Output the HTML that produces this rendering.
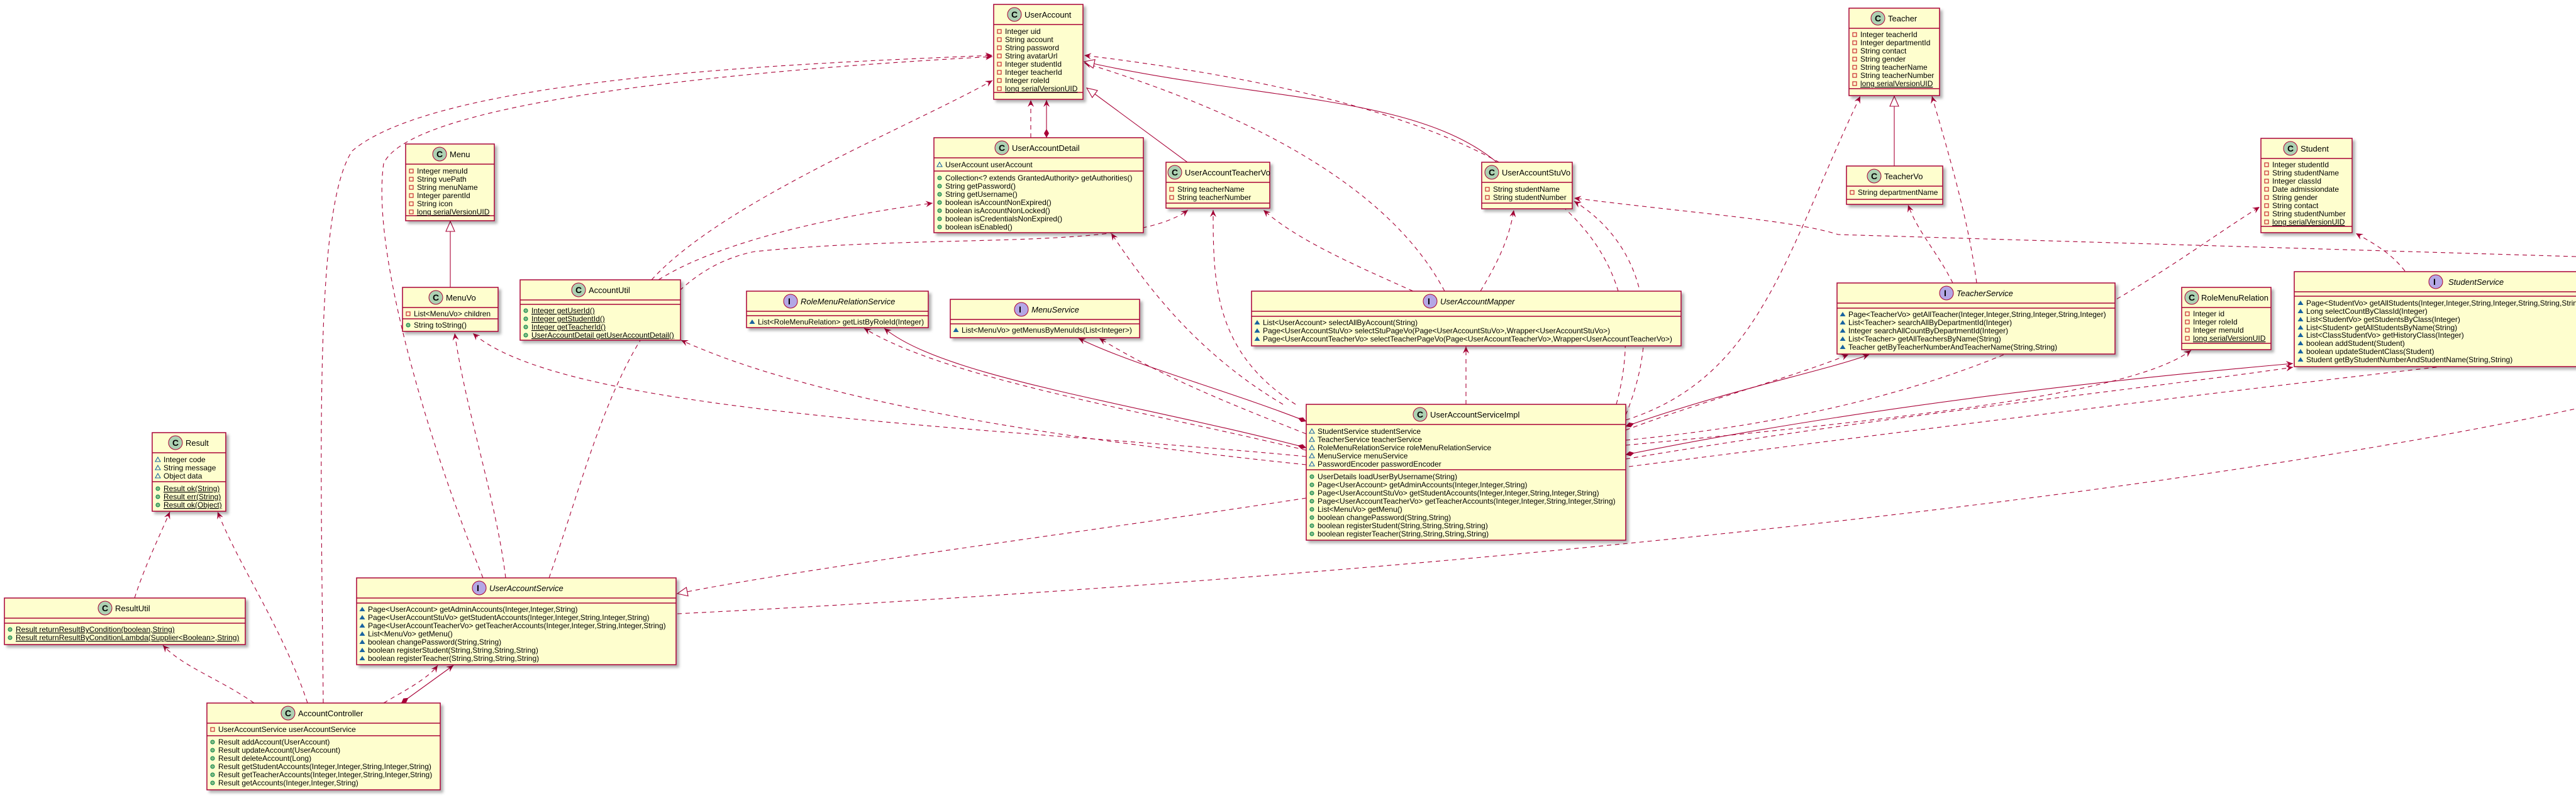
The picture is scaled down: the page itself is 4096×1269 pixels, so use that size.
<!DOCTYPE html>
<html><head><meta charset="utf-8"><style>
html,body{margin:0;padding:0;background:#fff;}
svg{display:block;}
text{font-family:"Liberation Sans",sans-serif;font-size:12px;fill:#000;}
.t{font-size:13px;}
.it{font-style:italic;}
.u{text-decoration:underline;}
.box{fill:#FEFECE;stroke:#A80036;stroke-width:1.5;filter:url(#sh);}
.sep{stroke:#A80036;stroke-width:1.5;}
.d{fill:none;stroke:#A80036;stroke-width:1.1;stroke-dasharray:7,6;marker-end:url(#ar);}
.dn{fill:none;stroke:#A80036;stroke-width:1.1;stroke-dasharray:7,6;}
.s{fill:none;stroke:#A80036;stroke-width:1.1;marker-end:url(#ar);marker-start:url(#dm);}
.g{fill:none;stroke:#A80036;stroke-width:1.1;marker-end:url(#tri);}
.r{fill:none;stroke:#A80036;stroke-width:1.1;stroke-dasharray:7,6;marker-end:url(#tri);}
.cc{fill:#ADD1B2;stroke:#A80036;stroke-width:1;}
.ci{fill:#B4A7E5;stroke:#A80036;stroke-width:1;}
.cl{font-weight:bold;font-size:14px;}
</style></head><body>
<svg width="4096" height="1269" viewBox="0 0 4096 1269" xmlns="http://www.w3.org/2000/svg">
<defs>
<filter id="sh" x="-5%" y="-5%" width="115%" height="120%"><feDropShadow dx="4" dy="4" stdDeviation="2" flood-color="#000" flood-opacity="0.3"/></filter>
<marker id="ar" markerUnits="userSpaceOnUse" markerWidth="14" markerHeight="12" refX="11" refY="5" orient="auto"><path d="M0,0 L11,5 L0,10 L4,5 Z" fill="#A80036"/></marker>
<marker id="dm" markerUnits="userSpaceOnUse" markerWidth="18" markerHeight="12" refX="1" refY="5" orient="auto"><path d="M1,5 L8,1 L15,5 L8,9 Z" fill="#A80036"/></marker>
<marker id="tri" markerUnits="userSpaceOnUse" markerWidth="20" markerHeight="20" refX="17" refY="8" orient="auto"><path d="M1,1 L17,8 L1,15 Z" fill="#fff" stroke="#A80036" stroke-width="1.1"/></marker>
<g id="pv"><rect x="-3" y="-3" width="6" height="6" fill="none" stroke="#C82930" stroke-width="1.2"/></g>
<g id="pk"><path d="M0,-4 L4,3 L-4,3 Z" fill="none" stroke="#1963A0" stroke-width="1.1"/></g>
<g id="pkf"><path d="M0,-4 L4.5,3 L-4.5,3 Z" fill="#1963A0"/></g>
<g id="pb"><circle r="3" fill="#84BE84" stroke="#038048" stroke-width="1"/></g>
</defs>

<!-- connectors -->
<path class="d" d="M514,1118 C510,700 500,330 560,240 C700,120 1300,100 1578,88"/>
<path class="d" d="M768,919 C680,700 590,400 610,260 C660,150 1300,105 1578,90"/>
<path class="d" d="M1036,445 C1150,320 1450,200 1578,128"/>
<path class="d" d="M1047,445 C1150,380 1350,340 1483,323"/>
<path class="d" d="M804,919 C790,800 740,650 723,530"/>
<path class="d" d="M873,919 C950,700 1000,440 1200,400 C1500,370 1800,400 1889,334"/>
<path class="d" d="M2077,726 C1600,680 900,660 752,530"/>
<path class="d" d="M2077,739 C1700,700 1300,640 1083,541"/>
<path class="d" d="M2077,716 C1800,650 1500,600 1374,522"/>
<path class="d" d="M2077,690 C1950,640 1850,600 1748,538"/>
<path class="d" d="M2040,643 C1900,560 1820,450 1767,371"/>
<path class="d" d="M2060,643 C1930,560 1929,450 1929,334"/>
<path class="d" d="M2247,463 C2150,420 2060,380 2009,334"/>
<path class="d" d="M2297,463 C2200,280 1950,170 1724,100"/>
<path class="d" d="M2354,463 C2380,420 2400,380 2407,334"/>
<path class="d" d="M2331,643 L2331,551"/>
<path class="d" d="M2570,643 C2650,350 2400,170 1724,88"/>
<path class="d" d="M2585,660 C2650,500 2600,380 2503,320"/>
<path class="d" d="M4096,408 L2923,373 C2850,350 2700,340 2503,315"/>
<path class="d" d="M2585,668 C2800,600 2840,400 2958,153"/>
<path class="d" d="M3143,450 C3130,350 3100,250 3072,153"/>
<path class="d" d="M3105,450 C3080,400 3050,370 3034,326"/>
<path class="d" d="M2585,684 C2700,640 2850,600 2939,564"/>
<path class="d" d="M2585,700 C3200,640 3400,450 3593,329"/>
<path class="d" d="M2585,708 C3100,660 3400,620 3484,557"/>
<path class="d" d="M2585,730 C3000,660 3400,620 3646,584"/>
<path class="d" d="M3824,431 C3800,400 3770,385 3746,371"/>
<path class="dn" d="M2590,742 C3000,690 3700,600 4096,560"/>
<path class="dn" d="M1077,976 C2000,930 3300,820 4096,650"/>
<path class="r" d="M2077,792 C1700,850 1300,900 1077,944"/>
<path class="d" d="M214,951 C230,900 255,850 270,814"/>
<path class="d" d="M489,1118 C450,1000 380,900 346,814"/>
<path class="d" d="M404,1118 C350,1080 290,1060 259,1026"/>
<path class="d" d="M610,1118 C640,1100 680,1080 696,1058"/>
<path class="d" d="M1639,219 L1639,159"/>
<path class="s" d="M1664,219 L1664,159"/>
<path class="s" d="M638,1118 L721,1058"/>
<path class="s" d="M2077,670 C1950,620 1800,580 1715,538"/>
<path class="s" d="M2077,712 C1800,640 1500,600 1406,522"/>
<path class="s" d="M2585,678 C2750,620 2900,590 2972,564"/>
<path class="s" d="M2585,723 C3000,640 3400,600 3646,578"/>
<path class="g" d="M3012,264 L3012,153"/>
<path class="g" d="M716,457 L716,352"/>
<path class="g" d="M1888,258 L1728,140"/>
<path class="g" d="M2380,258 C2250,150 2000,160 1724,98"/>

<!-- UserAccount -->
<rect class="box" x="1580" y="7" width="142" height="151"/>
<line class="sep" x1="1580" y1="39" x2="1722" y2="39"/><line class="sep" x1="1580" y1="147" x2="1722" y2="147"/>
<circle class="cc" cx="1613" cy="23" r="11"/><text class="cl" x="1608" y="28">C</text>
<text class="t" x="1629" y="28">UserAccount</text>
<use href="#pv" x="1589" y="50"/><text x="1598" y="54">Integer uid</text>
<use href="#pv" x="1589" y="63"/><text x="1598" y="67">String account</text>
<use href="#pv" x="1589" y="76"/><text x="1598" y="80">String password</text>
<use href="#pv" x="1589" y="89"/><text x="1598" y="93">String avatarUrl</text>
<use href="#pv" x="1589" y="102"/><text x="1598" y="106">Integer studentId</text>
<use href="#pv" x="1589" y="115"/><text x="1598" y="119">Integer teacherId</text>
<use href="#pv" x="1589" y="128"/><text x="1598" y="132">Integer roleId</text>
<use href="#pv" x="1589" y="141"/><text class="u" x="1598" y="145">long serialVersionUID</text>

<!-- UserAccountDetail -->
<rect class="box" x="1485" y="219" width="333" height="151"/>
<line class="sep" x1="1485" y1="251" x2="1818" y2="251"/><line class="sep" x1="1485" y1="272" x2="1818" y2="272"/>
<circle class="cc" cx="1593" cy="235" r="11"/><text class="cl" x="1588" y="240">C</text>
<text class="t" x="1609" y="240">UserAccountDetail</text>
<use href="#pk" x="1494" y="262"/><text x="1503" y="266">UserAccount userAccount</text>
<use href="#pb" x="1494" y="283"/><text x="1503" y="287">Collection&lt;? extends GrantedAuthority&gt; getAuthorities()</text>
<use href="#pb" x="1494" y="296"/><text x="1503" y="300">String getPassword()</text>
<use href="#pb" x="1494" y="309"/><text x="1503" y="313">String getUsername()</text>
<use href="#pb" x="1494" y="322"/><text x="1503" y="326">boolean isAccountNonExpired()</text>
<use href="#pb" x="1494" y="335"/><text x="1503" y="339">boolean isAccountNonLocked()</text>
<use href="#pb" x="1494" y="348"/><text x="1503" y="352">boolean isCredentialsNonExpired()</text>
<use href="#pb" x="1494" y="361"/><text x="1503" y="365">boolean isEnabled()</text>

<!-- UserAccountTeacherVo -->
<rect class="box" x="1854" y="258" width="165" height="73"/>
<line class="sep" x1="1854" y1="290" x2="2019" y2="290"/><line class="sep" x1="1854" y1="323" x2="2019" y2="323"/>
<circle class="cc" cx="1868" cy="274" r="11"/><text class="cl" x="1863" y="279">C</text>
<text class="t" x="1884" y="279">UserAccountTeacherVo</text>
<use href="#pv" x="1863" y="301"/><text x="1872" y="305">String teacherName</text>
<use href="#pv" x="1863" y="314"/><text x="1872" y="318">String teacherNumber</text>

<!-- UserAccountStuVo -->
<rect class="box" x="2356" y="258" width="144" height="74"/>
<line class="sep" x1="2356" y1="290" x2="2500" y2="290"/><line class="sep" x1="2356" y1="323" x2="2500" y2="323"/>
<circle class="cc" cx="2372" cy="274" r="11"/><text class="cl" x="2367" y="279">C</text>
<text class="t" x="2388" y="279">UserAccountStuVo</text>
<use href="#pv" x="2365" y="301"/><text x="2374" y="305">String studentName</text>
<use href="#pv" x="2365" y="314"/><text x="2374" y="318">String studentNumber</text>

<!-- Menu -->
<rect class="box" x="645" y="229" width="141" height="122"/>
<line class="sep" x1="645" y1="261" x2="786" y2="261"/><line class="sep" x1="645" y1="343" x2="786" y2="343"/>
<circle class="cc" cx="699" cy="245" r="11"/><text class="cl" x="694" y="250">C</text>
<text class="t" x="715" y="250">Menu</text>
<use href="#pv" x="654" y="272"/><text x="663" y="276">Integer menuId</text>
<use href="#pv" x="654" y="285"/><text x="663" y="289">String vuePath</text>
<use href="#pv" x="654" y="298"/><text x="663" y="302">String menuName</text>
<use href="#pv" x="654" y="311"/><text x="663" y="315">Integer parentId</text>
<use href="#pv" x="654" y="324"/><text x="663" y="328">String icon</text>
<use href="#pv" x="654" y="337"/><text class="u" x="663" y="341">long serialVersionUID</text>

<!-- MenuVo -->
<rect class="box" x="640" y="457" width="152" height="70"/>
<line class="sep" x1="640" y1="489" x2="792" y2="489"/><line class="sep" x1="640" y1="507" x2="792" y2="507"/>
<circle class="cc" cx="693" cy="473" r="11"/><text class="cl" x="688" y="478">C</text>
<text class="t" x="709" y="478">MenuVo</text>
<use href="#pv" x="649" y="499"/><text x="658" y="503">List&lt;MenuVo&gt; children</text>
<use href="#pb" x="649" y="517"/><text x="658" y="521">String toString()</text>

<!-- AccountUtil -->
<rect class="box" x="827" y="445" width="255" height="96"/>
<line class="sep" x1="827" y1="477" x2="1082" y2="477"/><line class="sep" x1="827" y1="484" x2="1082" y2="484"/>
<circle class="cc" cx="920" cy="461" r="11"/><text class="cl" x="915" y="466">C</text>
<text class="t" x="936" y="466">AccountUtil</text>
<use href="#pb" x="836" y="494"/><text class="u" x="845" y="498">Integer getUserId()</text>
<use href="#pb" x="836" y="507"/><text class="u" x="845" y="511">Integer getStudentId()</text>
<use href="#pb" x="836" y="520"/><text class="u" x="845" y="524">Integer getTeacherId()</text>
<use href="#pb" x="836" y="533"/><text class="u" x="845" y="537">UserAccountDetail getUserAccountDetail()</text>

<!-- RoleMenuRelationService -->
<rect class="box" x="1187" y="463" width="289" height="58"/>
<line class="sep" x1="1187" y1="495" x2="1476" y2="495"/><line class="sep" x1="1187" y1="502" x2="1476" y2="502"/>
<circle class="ci" cx="1257" cy="479" r="11"/><text class="cl" x="1253" y="484">I</text>
<text class="t it" x="1273" y="484">RoleMenuRelationService</text>
<use href="#pkf" x="1196" y="512"/><text x="1205" y="516">List&lt;RoleMenuRelation&gt; getListByRoleId(Integer)</text>

<!-- MenuService -->
<rect class="box" x="1511" y="476" width="301" height="61"/>
<line class="sep" x1="1511" y1="508" x2="1812" y2="508"/><line class="sep" x1="1511" y1="515" x2="1812" y2="515"/>
<circle class="ci" cx="1624" cy="492" r="11"/><text class="cl" x="1620" y="497">I</text>
<text class="t it" x="1640" y="497">MenuService</text>
<use href="#pkf" x="1520" y="525"/><text x="1529" y="529">List&lt;MenuVo&gt; getMenusByMenuIds(List&lt;Integer&gt;)</text>

<!-- UserAccountMapper -->
<rect class="box" x="1990" y="463" width="683" height="87"/>
<line class="sep" x1="1990" y1="495" x2="2673" y2="495"/><line class="sep" x1="1990" y1="503" x2="2673" y2="503"/>
<circle class="ci" cx="2274" cy="479" r="11"/><text class="cl" x="2270" y="484">I</text>
<text class="t it" x="2290" y="484">UserAccountMapper</text>
<use href="#pkf" x="1999" y="513"/><text x="2008" y="517">List&lt;UserAccount&gt; selectAllByAccount(String)</text>
<use href="#pkf" x="1999" y="526"/><text x="2008" y="530">Page&lt;UserAccountStuVo&gt; selectStuPageVo(Page&lt;UserAccountStuVo&gt;,Wrapper&lt;UserAccountStuVo&gt;)</text>
<use href="#pkf" x="1999" y="539"/><text x="2008" y="543">Page&lt;UserAccountTeacherVo&gt; selectTeacherPageVo(Page&lt;UserAccountTeacherVo&gt;,Wrapper&lt;UserAccountTeacherVo&gt;)</text>

<!-- Teacher -->
<rect class="box" x="2940" y="13" width="144" height="139"/>
<line class="sep" x1="2940" y1="45" x2="3084" y2="45"/><line class="sep" x1="2940" y1="141" x2="3084" y2="141"/>
<circle class="cc" cx="2986" cy="29" r="11"/><text class="cl" x="2981" y="34">C</text>
<text class="t" x="3002" y="34">Teacher</text>
<use href="#pv" x="2949" y="55"/><text x="2958" y="59">Integer teacherId</text>
<use href="#pv" x="2949" y="68"/><text x="2958" y="72">Integer departmentId</text>
<use href="#pv" x="2949" y="81"/><text x="2958" y="85">String contact</text>
<use href="#pv" x="2949" y="94"/><text x="2958" y="98">String gender</text>
<use href="#pv" x="2949" y="107"/><text x="2958" y="111">String teacherName</text>
<use href="#pv" x="2949" y="120"/><text x="2958" y="124">String teacherNumber</text>
<use href="#pv" x="2949" y="133"/><text class="u" x="2958" y="137">long serialVersionUID</text>

<!-- TeacherVo -->
<rect class="box" x="2936" y="264" width="153" height="61"/>
<line class="sep" x1="2936" y1="296" x2="3089" y2="296"/><line class="sep" x1="2936" y1="317" x2="3089" y2="317"/>
<circle class="cc" cx="2980" cy="280" r="11"/><text class="cl" x="2975" y="285">C</text>
<text class="t" x="2996" y="285">TeacherVo</text>
<use href="#pv" x="2945" y="306"/><text x="2954" y="310">String departmentName</text>

<!-- Student -->
<rect class="box" x="3595" y="220" width="145" height="150"/>
<line class="sep" x1="3595" y1="252" x2="3740" y2="252"/><line class="sep" x1="3595" y1="360" x2="3740" y2="360"/>
<circle class="cc" cx="3642" cy="236" r="11"/><text class="cl" x="3637" y="241">C</text>
<text class="t" x="3658" y="241">Student</text>
<use href="#pv" x="3604" y="262"/><text x="3613" y="266">Integer studentId</text>
<use href="#pv" x="3604" y="275"/><text x="3613" y="279">String studentName</text>
<use href="#pv" x="3604" y="288"/><text x="3613" y="292">Integer classId</text>
<use href="#pv" x="3604" y="301"/><text x="3613" y="305">Date admissiondate</text>
<use href="#pv" x="3604" y="314"/><text x="3613" y="318">String gender</text>
<use href="#pv" x="3604" y="327"/><text x="3613" y="331">String contact</text>
<use href="#pv" x="3604" y="340"/><text x="3613" y="344">String studentNumber</text>
<use href="#pv" x="3604" y="353"/><text class="u" x="3613" y="357">long serialVersionUID</text>

<!-- TeacherService -->
<rect class="box" x="2921" y="450" width="442" height="113"/>
<line class="sep" x1="2921" y1="482" x2="3363" y2="482"/><line class="sep" x1="2921" y1="490" x2="3363" y2="490"/>
<circle class="ci" cx="3095" cy="466" r="11"/><text class="cl" x="3091" y="471">I</text>
<text class="t it" x="3111" y="471">TeacherService</text>
<use href="#pkf" x="2930" y="500"/><text x="2939" y="504">Page&lt;TeacherVo&gt; getAllTeacher(Integer,Integer,String,Integer,String,Integer)</text>
<use href="#pkf" x="2930" y="513"/><text x="2939" y="517">List&lt;Teacher&gt; searchAllByDepartmentId(Integer)</text>
<use href="#pkf" x="2930" y="526"/><text x="2939" y="530">Integer searchAllCountByDepartmentId(Integer)</text>
<use href="#pkf" x="2930" y="539"/><text x="2939" y="543">List&lt;Teacher&gt; getAllTeachersByName(String)</text>
<use href="#pkf" x="2930" y="552"/><text x="2939" y="556">Teacher getByTeacherNumberAndTeacherName(String,String)</text>

<!-- RoleMenuRelation -->
<rect class="box" x="3469" y="457" width="142" height="99"/>
<line class="sep" x1="3469" y1="489" x2="3611" y2="489"/><line class="sep" x1="3469" y1="546" x2="3611" y2="546"/>
<circle class="cc" cx="3485" cy="473" r="11"/><text class="cl" x="3480" y="478">C</text>
<text class="t" x="3500" y="478">RoleMenuRelation</text>
<use href="#pv" x="3478" y="499"/><text x="3487" y="503">Integer id</text>
<use href="#pv" x="3478" y="512"/><text x="3487" y="516">Integer roleId</text>
<use href="#pv" x="3478" y="525"/><text x="3487" y="529">Integer menuId</text>
<use href="#pv" x="3478" y="538"/><text class="u" x="3487" y="542">long serialVersionUID</text>

<!-- StudentService -->
<rect class="box" x="3648" y="432" width="520" height="151"/>
<line class="sep" x1="3648" y1="464" x2="4096" y2="464"/><line class="sep" x1="3648" y1="471" x2="4096" y2="471"/>
<circle class="ci" cx="3873" cy="448" r="11"/><text class="cl" x="3869" y="453">I</text>
<text class="t it" x="3893" y="453">StudentService</text>
<use href="#pkf" x="3658" y="482"/><text x="3667" y="486">Page&lt;StudentVo&gt; getAllStudents(Integer,Integer,String,Integer,String,String,String)</text>
<use href="#pkf" x="3658" y="495"/><text x="3667" y="499">Long selectCountByClassId(Integer)</text>
<use href="#pkf" x="3658" y="508"/><text x="3667" y="512">List&lt;StudentVo&gt; getStudentsByClass(Integer)</text>
<use href="#pkf" x="3658" y="521"/><text x="3667" y="525">List&lt;Student&gt; getAllStudentsByName(String)</text>
<use href="#pkf" x="3658" y="533"/><text x="3667" y="537">List&lt;ClassStudentVo&gt; getHistoryClass(Integer)</text>
<use href="#pkf" x="3658" y="546"/><text x="3667" y="550">boolean addStudent(Student)</text>
<use href="#pkf" x="3658" y="559"/><text x="3667" y="563">boolean updateStudentClass(Student)</text>
<use href="#pkf" x="3658" y="572"/><text x="3667" y="576">Student getByStudentNumberAndStudentName(String,String)</text>

<!-- UserAccountServiceImpl -->
<rect class="box" x="2077" y="643" width="508" height="216"/>
<line class="sep" x1="2077" y1="675" x2="2585" y2="675"/><line class="sep" x1="2077" y1="747" x2="2585" y2="747"/>
<circle class="cc" cx="2258" cy="659" r="11"/><text class="cl" x="2253" y="664">C</text>
<text class="t" x="2274" y="664">UserAccountServiceImpl</text>
<use href="#pk" x="2086" y="686"/><text x="2095" y="690">StudentService studentService</text>
<use href="#pk" x="2086" y="699"/><text x="2095" y="703">TeacherService teacherService</text>
<use href="#pk" x="2086" y="712"/><text x="2095" y="716">RoleMenuRelationService roleMenuRelationService</text>
<use href="#pk" x="2086" y="725"/><text x="2095" y="729">MenuService menuService</text>
<use href="#pk" x="2086" y="738"/><text x="2095" y="742">PasswordEncoder passwordEncoder</text>
<use href="#pb" x="2086" y="758"/><text x="2095" y="762">UserDetails loadUserByUsername(String)</text>
<use href="#pb" x="2086" y="771"/><text x="2095" y="775">Page&lt;UserAccount&gt; getAdminAccounts(Integer,Integer,String)</text>
<use href="#pb" x="2086" y="784"/><text x="2095" y="788">Page&lt;UserAccountStuVo&gt; getStudentAccounts(Integer,Integer,String,Integer,String)</text>
<use href="#pb" x="2086" y="797"/><text x="2095" y="801">Page&lt;UserAccountTeacherVo&gt; getTeacherAccounts(Integer,Integer,String,Integer,String)</text>
<use href="#pb" x="2086" y="810"/><text x="2095" y="814">List&lt;MenuVo&gt; getMenu()</text>
<use href="#pb" x="2086" y="823"/><text x="2095" y="827">boolean changePassword(String,String)</text>
<use href="#pb" x="2086" y="836"/><text x="2095" y="840">boolean registerStudent(String,String,String,String)</text>
<use href="#pb" x="2086" y="849"/><text x="2095" y="853">boolean registerTeacher(String,String,String,String)</text>

<!-- Result -->
<rect class="box" x="242" y="688" width="117" height="125"/>
<line class="sep" x1="242" y1="720" x2="359" y2="720"/><line class="sep" x1="242" y1="766" x2="359" y2="766"/>
<circle class="cc" cx="279" cy="704" r="11"/><text class="cl" x="274" y="709">C</text>
<text class="t" x="295" y="709">Result</text>
<use href="#pk" x="251" y="731"/><text x="260" y="735">Integer code</text>
<use href="#pk" x="251" y="744"/><text x="260" y="748">String message</text>
<use href="#pk" x="251" y="757"/><text x="260" y="761">Object data</text>
<use href="#pb" x="251" y="777"/><text class="u" x="260" y="781">Result ok(String)</text>
<use href="#pb" x="251" y="790"/><text class="u" x="260" y="794">Result err(String)</text>
<use href="#pb" x="251" y="803"/><text class="u" x="260" y="807">Result ok(Object)</text>

<!-- ResultUtil -->
<rect class="box" x="7" y="951" width="383" height="74"/>
<line class="sep" x1="7" y1="983" x2="390" y2="983"/><line class="sep" x1="7" y1="991" x2="390" y2="991"/>
<circle class="cc" cx="167" cy="967" r="11"/><text class="cl" x="162" y="972">C</text>
<text class="t" x="183" y="972">ResultUtil</text>
<use href="#pb" x="16" y="1001"/><text class="u" x="25" y="1005">Result returnResultByCondition(boolean,String)</text>
<use href="#pb" x="16" y="1014"/><text class="u" x="25" y="1018">Result returnResultByConditionLambda(Supplier&lt;Boolean&gt;,String)</text>

<!-- UserAccountService -->
<rect class="box" x="567" y="919" width="508" height="138"/>
<line class="sep" x1="567" y1="951" x2="1075" y2="951"/><line class="sep" x1="567" y1="959" x2="1075" y2="959"/>
<circle class="ci" cx="762" cy="935" r="11"/><text class="cl" x="758" y="940">I</text>
<text class="t it" x="778" y="940">UserAccountService</text>
<use href="#pkf" x="576" y="969"/><text x="585" y="973">Page&lt;UserAccount&gt; getAdminAccounts(Integer,Integer,String)</text>
<use href="#pkf" x="576" y="982"/><text x="585" y="986">Page&lt;UserAccountStuVo&gt; getStudentAccounts(Integer,Integer,String,Integer,String)</text>
<use href="#pkf" x="576" y="995"/><text x="585" y="999">Page&lt;UserAccountTeacherVo&gt; getTeacherAccounts(Integer,Integer,String,Integer,String)</text>
<use href="#pkf" x="576" y="1008"/><text x="585" y="1012">List&lt;MenuVo&gt; getMenu()</text>
<use href="#pkf" x="576" y="1021"/><text x="585" y="1025">boolean changePassword(String,String)</text>
<use href="#pkf" x="576" y="1034"/><text x="585" y="1038">boolean registerStudent(String,String,String,String)</text>
<use href="#pkf" x="576" y="1047"/><text x="585" y="1051">boolean registerTeacher(String,String,String,String)</text>

<!-- AccountController -->
<rect class="box" x="329" y="1118" width="371" height="138"/>
<line class="sep" x1="329" y1="1150" x2="700" y2="1150"/><line class="sep" x1="329" y1="1170" x2="700" y2="1170"/>
<circle class="cc" cx="458" cy="1134" r="11"/><text class="cl" x="453" y="1139">C</text>
<text class="t" x="474" y="1139">AccountController</text>
<use href="#pv" x="338" y="1160"/><text x="347" y="1164">UserAccountService userAccountService</text>
<use href="#pb" x="338" y="1180"/><text x="347" y="1184">Result addAccount(UserAccount)</text>
<use href="#pb" x="338" y="1193"/><text x="347" y="1197">Result updateAccount(UserAccount)</text>
<use href="#pb" x="338" y="1206"/><text x="347" y="1210">Result deleteAccount(Long)</text>
<use href="#pb" x="338" y="1219"/><text x="347" y="1223">Result getStudentAccounts(Integer,Integer,String,Integer,String)</text>
<use href="#pb" x="338" y="1232"/><text x="347" y="1236">Result getTeacherAccounts(Integer,Integer,String,Integer,String)</text>
<use href="#pb" x="338" y="1245"/><text x="347" y="1249">Result getAccounts(Integer,Integer,String)</text>
</svg>
</body></html>
